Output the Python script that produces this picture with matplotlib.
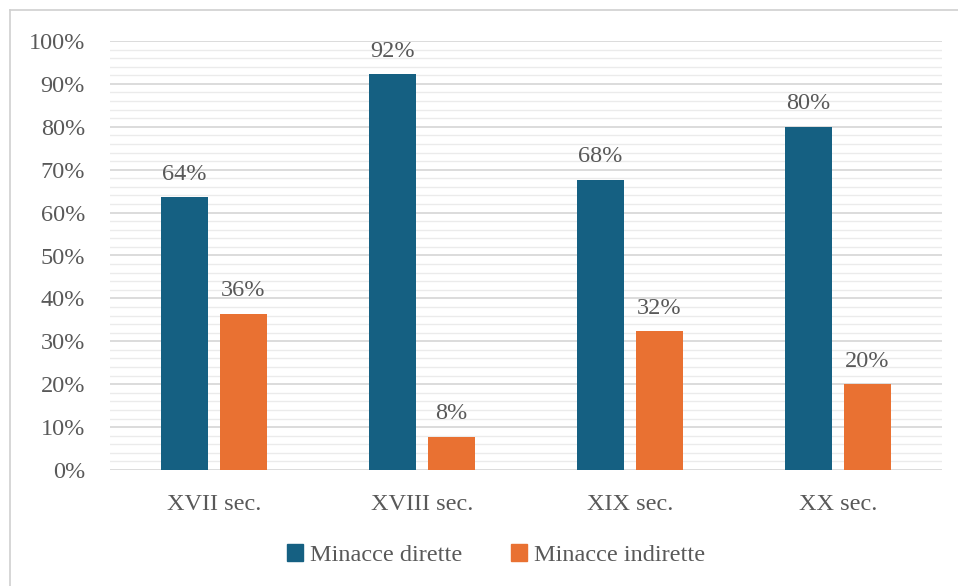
import matplotlib
matplotlib.use("Agg")
import matplotlib.pyplot as plt
import numpy as np
from matplotlib.lines import Line2D
from matplotlib.patches import Patch
from matplotlib.ticker import MultipleLocator, PercentFormatter

categories = ["XVII sec.", "XVIII sec.", "XIX sec.", "XX sec."]
series_names = ["Minacce dirette", "Minacce indirette"]
dirette = [0.636, 0.923, 0.677, 0.80]
indirette = [0.364, 0.077, 0.323, 0.20]

BLUE = "#156082"
ORANGE = "#E97132"
TEXT = "#595959"

plt.rcParams["font.family"] = ["Liberation Serif", "DejaVu Serif"]

fig = plt.figure(figsize=(9.58, 5.86), dpi=100)
ax = fig.add_axes([110 / 958, 1 - 470 / 586, 832 / 958, 429 / 586])

x = np.arange(len(categories))
width = 0.222
offset = 0.142

b1 = ax.bar(x - offset, dirette, width, color=BLUE, zorder=3, label=series_names[0])
b2 = ax.bar(x + offset, indirette, width, color=ORANGE, zorder=3, label=series_names[1])

for bars, vals in ((b1, dirette), (b2, indirette)):
    for rect, v in zip(bars, vals):
        ax.annotate(f"{v:.0%}", (rect.get_x() + rect.get_width() / 2, v),
                    xytext=(0, 9), textcoords="offset points",
                    ha="center", va="bottom", fontsize=17.5, color=TEXT)

ax.set_xlim(-0.5, len(categories) - 0.5)
ax.set_ylim(0, 1.0)
ax.yaxis.set_major_locator(MultipleLocator(0.1))
ax.yaxis.set_minor_locator(MultipleLocator(0.02))
ax.yaxis.set_major_formatter(PercentFormatter(1.0, decimals=0))

ax.grid(axis="y", which="major", color="#D9D9D9", linewidth=1.3, zorder=0)
ax.grid(axis="y", which="minor", color="#EBEBEB", linewidth=1.0, zorder=0)
ax.set_axisbelow(True)

for s in ax.spines.values():
    s.set_visible(False)

ax.set_xticks(x)
ax.set_xticklabels(categories)
ax.tick_params(axis="y", which="both", length=0, labelsize=17.5, labelcolor=TEXT, pad=18)
ax.tick_params(axis="x", length=0, labelsize=17.5, labelcolor=TEXT, pad=17)

handles = [Patch(color=BLUE), Patch(color=ORANGE)]
fig.legend(handles, series_names, loc="center", bbox_to_anchor=(496 / 958, 1 - 555 / 586),
           ncol=2, frameon=False, fontsize=17.5, labelcolor=TEXT,
           handlelength=0.65, handleheight=0.7, handletextpad=0.3, columnspacing=2.0)

# chart frame (left and top edges)
fig.add_artist(Line2D([10 / 958, 10 / 958], [0, 1 - 10 / 586], color="#D0D0D0", linewidth=1.2))
fig.add_artist(Line2D([10 / 958, 1], [1 - 10 / 586, 1 - 10 / 586], color="#D0D0D0", linewidth=1.2))

fig.savefig("out.png", dpi=100, facecolor="white")
